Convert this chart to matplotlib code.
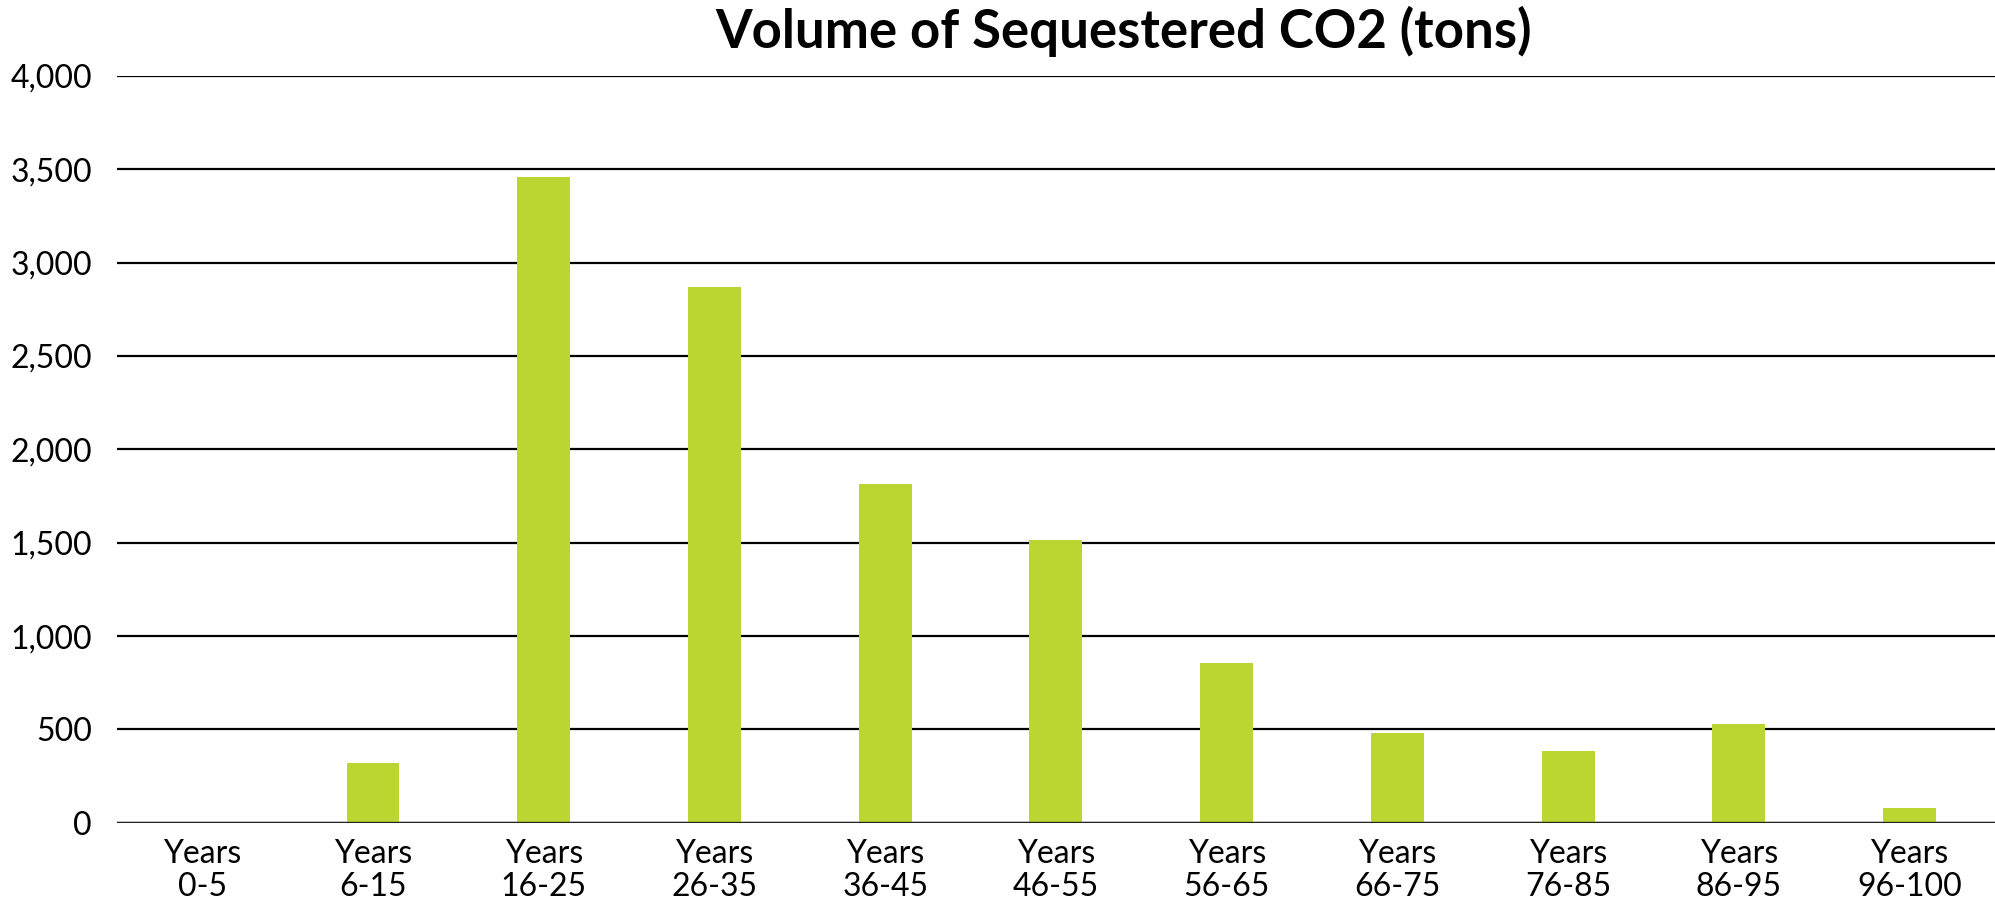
import matplotlib.pyplot as plt
from matplotlib.ticker import FuncFormatter

categories = ["Years\n0-5", "Years\n6-15", "Years\n16-25", "Years\n26-35",
              "Years\n36-45", "Years\n46-55", "Years\n56-65", "Years\n66-75",
              "Years\n76-85", "Years\n86-95", "Years\n96-100"]
tons = [0, 318, 3458, 2872, 1817, 1517, 856, 480, 386, 527, 80]
y_ticks = [0, 500, 1000, 1500, 2000, 2500, 3000, 3500, 4000]

plt.rcParams['font.family'] = ['Lato', 'DejaVu Sans']

fig = plt.figure(figsize=(19.95, 9.09), dpi=100)
ax = fig.add_axes([0.0586, 0.0949, 0.9414, 0.8215])

x = range(len(categories))
ax.bar(x, tons, width=0.31, color="#bcd631", zorder=3)

ax.set_xlim(-0.5, 10.5)
ax.set_ylim(0, 4000)
ax.set_yticks(y_ticks)
ax.yaxis.set_major_formatter(FuncFormatter(lambda v, p: f"{int(v):,}"))
ax.set_xticks(list(x))
ax.set_xticklabels(categories, linespacing=1.1)

ax.grid(axis="y", color="black", linewidth=1.6, zorder=1)
for s in ["top", "right", "left", "bottom"]:
    ax.spines[s].set_visible(False)
ax.axhline(0, color="#222222", linewidth=2.4, zorder=4)

ax.tick_params(axis="both", length=0, labelsize=23, colors="black")
ax.tick_params(axis="y", pad=18)
ax.tick_params(axis="x", pad=12)

fig.text(0.563, 0.965, "Volume of Sequestered CO2 (tons)", ha="center",
         va="center", fontsize=38, fontweight="bold")

fig.savefig("out.png", dpi=100)
